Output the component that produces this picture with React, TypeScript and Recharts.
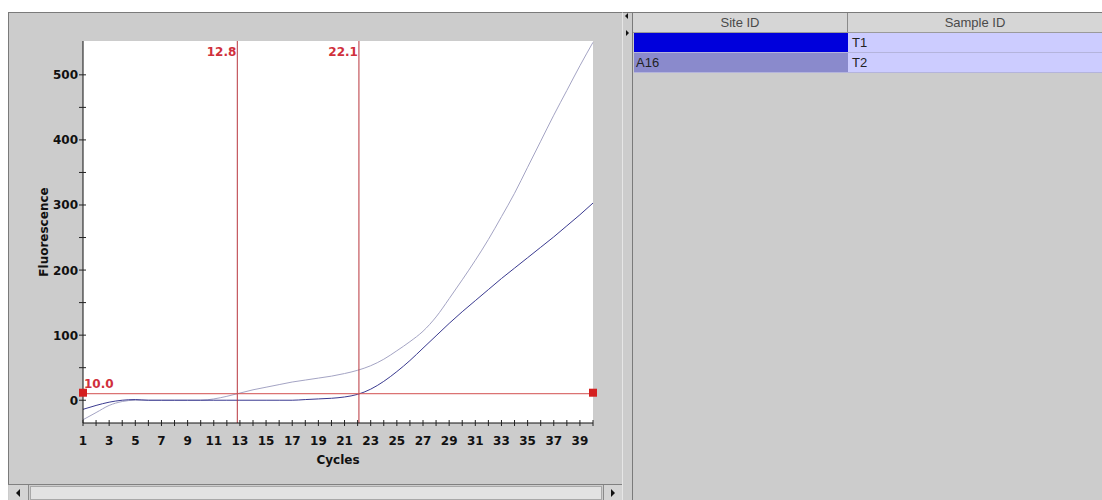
import {
  LineChart,
  Line,
  XAxis,
  YAxis,
  CartesianGrid,
  ReferenceLine,
  ReferenceDot,
} from "recharts";

// amplification data
const cycles = [
  1, 2, 3, 4, 5, 6, 7, 8, 9, 10, 11, 12, 13, 14, 15, 16, 17, 18, 19, 20,
  21, 22, 23, 24, 25, 26, 27, 28, 29, 30, 31, 32, 33, 34, 35, 36, 37, 38, 39, 40,
];
const t1Fluorescence = [
  -14, -8, -3, 0, 1, 0, 0, 0, 0, 0, 0, 0, 0, 0, 0, 0, 0, 1, 2, 3,
  5, 9, 17, 29, 44, 61, 80, 99, 118, 136, 153, 170, 187, 203, 219, 235, 251, 268, 285, 303,
];
const t2Fluorescence = [
  -30, -19, -8, -2, 0, 0, 0, 0, 0, 0, 2, 6, 11, 16, 20, 24, 28, 31, 34, 37,
  41, 46, 53, 63, 76, 90, 106, 128, 156, 185, 215, 247, 282, 318, 358, 398, 438, 476, 514, 550,
];
const yTicks = [0, 50, 100, 150, 200, 250, 300, 350, 400, 450, 500];
const crossings = [12.8, 22.1];
const threshold = 10.0;
const siteIds = ["", "A16"];
const sampleIds = ["T1", "T2"];

const data = cycles.map((c, i) => ({
  cycle: c,
  t1: t1Fluorescence[i],
  t2: t2Fluorescence[i],
}));

const AXIS_FONT = "'DejaVu Sans', sans-serif";
const UI_FONT = "'Liberation Sans', Arial, sans-serif";
const RED = "#d0303c";

const XTick = ({ x, y, payload }: any) => (
  <g>
    <line x1={x} x2={x} y1={y - 3} y2={y + 3} stroke="#222" />
    {payload.value % 2 === 1 && (
      <text
        x={x}
        y={y + 22}
        textAnchor="middle"
        fontSize={12}
        fontWeight="bold"
        fontFamily={AXIS_FONT}
        fill="#111"
      >
        {payload.value}
      </text>
    )}
  </g>
);

const YTick = ({ x, y, payload }: any) => (
  <g>
    <line x1={x - 4} x2={x + 3} y1={y} y2={y} stroke="#222" />
    {payload.value % 100 === 0 && (
      <text
        x={x - 5}
        y={y + 4.5}
        textAnchor="end"
        fontSize={12}
        fontWeight="bold"
        fontFamily={AXIS_FONT}
        fill="#111"
      >
        {payload.value}
      </text>
    )}
  </g>
);

const crossingLabel = (text: string) => (props: any) => {
  const vb = props.viewBox;
  return (
    <text
      x={vb.x - 1}
      y={vb.y + 15}
      textAnchor="end"
      fontSize={12}
      fontWeight="bold"
      fontFamily={AXIS_FONT}
      fill={RED}
    >
      {text}
    </text>
  );
};

const thresholdLabel = (props: any) => {
  const vb = props.viewBox;
  return (
    <text
      x={vb.x + 1}
      y={vb.y - 6}
      fontSize={12}
      fontWeight="bold"
      fontFamily={AXIS_FONT}
      fill={RED}
    >
      {threshold.toFixed(1)}
    </text>
  );
};

const squareMarker = (p: any) => (
  <rect x={p.cx - 4} y={p.cy - 5} width={8} height={8} fill="#d42020" />
);

const tri = (dir: "left" | "right", size = 4, color = "#111") =>
  dir === "left"
    ? {
        width: 0,
        height: 0,
        borderTop: `${size}px solid transparent`,
        borderBottom: `${size}px solid transparent`,
        borderRight: `${size}px solid ${color}`,
      }
    : {
        width: 0,
        height: 0,
        borderTop: `${size}px solid transparent`,
        borderBottom: `${size}px solid transparent`,
        borderLeft: `${size}px solid ${color}`,
      };

const abs = (left: number, top: number, width: number, height: number) => ({
  position: "absolute" as const,
  left,
  top,
  width,
  height,
  boxSizing: "border-box" as const,
});

const App = () => {
  return (
    <div
      style={{
        position: "absolute",
        left: 0,
        top: 0,
        width: 1102,
        height: 500,
        background: "#fff",
        overflow: "hidden",
      }}
    >
      {/* left panel */}
      <div
        style={{
          ...abs(8, 12, 614, 488),
          background: "#cccccc",
          borderTop: "1px solid #7a7a7a",
          borderLeft: "1px solid #7a7a7a",
        }}
      />
      <div style={{ position: "absolute", left: 0, top: 0 }}>
        <LineChart
          width={620}
          height={480}
          data={data}
          margin={{ top: 41, right: 27, bottom: 7, left: 23 }}
        >
          <CartesianGrid fill="#ffffff" horizontal={false} vertical={false} />
          <XAxis
            dataKey="cycle"
            type="number"
            domain={[1, 40]}
            ticks={cycles}
            interval={0}
            tickSize={0}
            tickMargin={0}
            tick={<XTick />}
            height={50}
            axisLine={{ stroke: "#111" }}
            label={(props: any) => {
              const vb = props.viewBox;
              return (
                <text
                  x={vb.x + vb.width / 2}
                  y={vb.y + 41}
                  textAnchor="middle"
                  fontSize={12}
                  fontWeight="bold"
                  fontFamily={AXIS_FONT}
                  fill="#111"
                >
                  Cycles
                </text>
              );
            }}
          />
          <XAxis
            xAxisId="top"
            orientation="top"
            type="number"
            domain={[1, 40]}
            height={0}
            tick={false}
            tickLine={false}
            axisLine={{ stroke: "#6a6a6a" }}
          />
          <YAxis
            type="number"
            domain={[-35, 552]}
            allowDataOverflow
            ticks={yTicks}
            interval={0}
            tickSize={0}
            tickMargin={0}
            tick={<YTick />}
            width={60}
            axisLine={{ stroke: "#111" }}
            label={(props: any) => {
              const vb = props.viewBox;
              const cx = vb.x + 21;
              const cy = vb.y + vb.height / 2;
              return (
                <text
                  x={cx}
                  y={cy}
                  transform={`rotate(-90 ${cx} ${cy})`}
                  textAnchor="middle"
                  dominantBaseline="central"
                  fontSize={12}
                  fontWeight="bold"
                  fontFamily={AXIS_FONT}
                  fill="#111"
                >
                  Fluorescence
                </text>
              );
            }}
          />
          <YAxis
            yAxisId="right"
            orientation="right"
            type="number"
            domain={[-35, 552]}
            width={0}
            tick={false}
            tickLine={false}
            axisLine={{ stroke: "#6a6a6a" }}
          />
          <Line
            dataKey="t2"
            type="monotone"
            stroke="#a4a4c4"
            strokeWidth={1}
            dot={false}
            isAnimationActive={false}
          />
          <Line
            dataKey="t1"
            type="monotone"
            stroke="#3a3a90"
            strokeWidth={1}
            dot={false}
            isAnimationActive={false}
          />
          {crossings.map((c) => (
            <ReferenceLine
              key={c}
              x={c}
              stroke="#b8343c"
              strokeWidth={1}
              label={crossingLabel(c.toFixed(1))}
            />
          ))}
          <ReferenceLine
            y={threshold}
            stroke="#d25050"
            strokeWidth={1}
            label={thresholdLabel}
          />
          <ReferenceDot x={1} y={threshold} ifOverflow="visible" shape={squareMarker} />
          <ReferenceDot x={40} y={threshold} ifOverflow="visible" shape={squareMarker} />
        </LineChart>
      </div>

      {/* horizontal scrollbar */}
      <div
        style={{
          ...abs(8, 484, 614, 16),
          background: "#cccccc",
          borderTop: "1px solid #808080",
        }}
      />
      <div style={{ ...abs(9, 485, 20, 15), background: "#d4d4d4", borderRight: "1px solid #8a8a8a" }} />
      <div style={{ position: "absolute", left: 16, top: 489, ...tri("left") }} />
      <div style={{ ...abs(30, 486, 572, 14), background: "#e2e2e2", border: "1px solid #a8a8a8" }} />
      <div style={{ ...abs(603, 485, 19, 15), background: "#d4d4d4", borderLeft: "1px solid #8a8a8a" }} />
      <div style={{ position: "absolute", left: 611, top: 489, ...tri("right") }} />

      {/* splitter */}
      <div
        style={{
          ...abs(622, 12, 11, 488),
          background: "#cccccc",
          borderLeft: "1px solid #e6e6e6",
          borderRight: "1px solid #7a7a7a",
          borderTop: "1px solid #7a7a7a",
        }}
      />
      <div style={{ position: "absolute", left: 625, top: 13, ...tri("left", 3) }} />
      <div style={{ position: "absolute", left: 626, top: 30, ...tri("right", 3) }} />

      {/* right panel with table */}
      <div
        style={{
          ...abs(633, 12, 469, 488),
          background: "#cccccc",
          borderTop: "1px solid #7a7a7a",
        }}
      />
      <div
        style={{
          ...abs(633, 13, 469, 20),
          background: "#d6d6d6",
          borderBottom: "1px solid #9a9a9a",
          display: "flex",
          fontFamily: UI_FONT,
          fontSize: 13,
          color: "#4a4a4a",
        }}
      >
        <div
          style={{
            width: 215,
            borderRight: "1px solid #8a8a8a",
            textAlign: "center",
            lineHeight: "19px",
            boxSizing: "border-box",
          }}
        >
          Site ID
        </div>
        <div style={{ flex: 1, textAlign: "center", lineHeight: "19px" }}>Sample ID</div>
      </div>
      {sampleIds.map((s, i) => (
        <div
          key={s}
          style={{
            ...abs(634, 33 + i * 20, 468, 20),
            display: "flex",
            fontFamily: UI_FONT,
            fontSize: 13,
            color: "#222",
            borderBottom: "1px solid #b4b4dc",
          }}
        >
          <div
            style={{
              width: 214,
              background: i === 0 ? "#0000dc" : "#8a8acc",
              color: i === 0 ? "#fff" : "#222",
              paddingLeft: 2,
              lineHeight: "19px",
              boxSizing: "border-box",
            }}
          >
            {siteIds[i]}
          </div>
          <div
            style={{
              flex: 1,
              background: "#ccccff",
              paddingLeft: 4,
              lineHeight: "19px",
            }}
          >
            {s}
          </div>
        </div>
      ))}
    </div>
  );
};

export default App;
